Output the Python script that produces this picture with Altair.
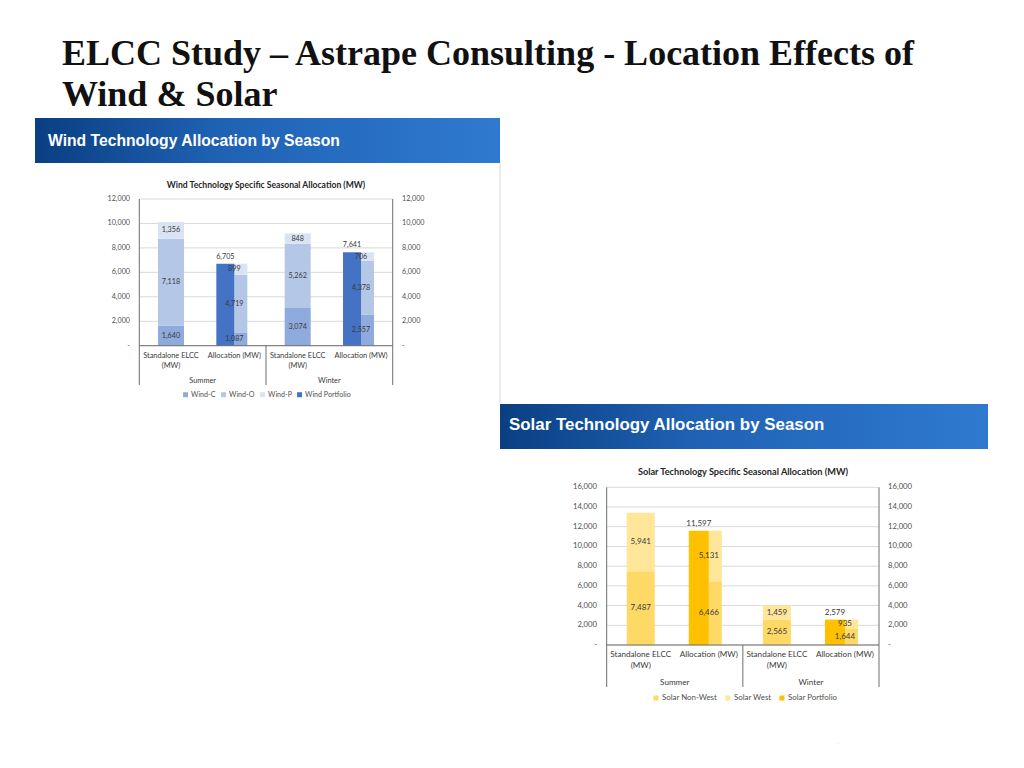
import altair as alt
import pandas as pd

M = 8  # page margin: screen coordinate = chart coordinate + 8
FONT = "Lato"
HFONT = "Liberation Sans"
TFONT = "Liberation Serif"
GRID = "#d9d9d9"
FRAME = "#6e6e6e"
LABEL = "#3a3a3a"
TICKC = "#505050"

# ---------------- text ----------------
title_line1 = "ELCC Study – Astrape Consulting - Location Effects of"
title_line2 = "Wind & Solar"
wind_header = "Wind Technology Allocation by Season"
solar_header = "Solar Technology Allocation by Season"
wind_title = "Wind Technology Specific Seasonal Allocation (MW)"
solar_title = "Solar Technology Specific Seasonal Allocation (MW)"

# ---------------- categories ----------------
categories = ["Summer|Standalone", "Summer|Allocation", "Winter|Standalone", "Winter|Allocation"]
category_labels = ["Standalone ELCC\n(MW)", "Allocation (MW)", "Standalone ELCC\n(MW)", "Allocation (MW)"]
seasons = ["Summer", "Winter"]
season_first_cat = ["Summer|Standalone", "Winter|Standalone"]
allocation_cats = ["Summer|Allocation", "Winter|Allocation"]

# ---------------- wind data ----------------
wind_series = ["Wind-C", "Wind-O", "Wind-P"]
wind_portfolio_name = "Wind Portfolio"
wind_summer_standalone = [1640, 7118, 1356]
wind_summer_allocation = [1087, 4719, 899]
wind_winter_standalone = [3074, 5262, 848]
wind_winter_allocation = [2557, 4378, 706]
wind_portfolio = [6705, 7641]
wind_colors = ["#8FAADC", "#B4C7E7", "#DAE3F3", "#4472C4"]
wind_ticks = [0, 2000, 4000, 6000, 8000, 10000, 12000]

# ---------------- solar data ----------------
solar_series = ["Solar Non-West", "Solar West"]
solar_portfolio_name = "Solar Portfolio"
solar_summer_standalone = [7487, 5941]
solar_summer_allocation = [6466, 5131]
solar_winter_standalone = [2565, 1459]
solar_winter_allocation = [1644, 935]
solar_portfolio = [11597, 2579]
solar_colors = ["#FFD966", "#FFE699", "#FFC000"]
solar_ticks = [0, 2000, 4000, 6000, 8000, 10000, 12000, 14000, 16000]


def stack_frame(series, per_cat):
    rows = []
    for cat, vals in zip(categories, per_cat):
        for i, (s, v) in enumerate(zip(series, vals)):
            rows.append(dict(cat=cat, kind=cat.split("|")[1], series=s, value=v, ord=i))
    return pd.DataFrame(rows)


def one():
    return pd.DataFrame({"k": [0]})


def build_panel(g, sdf, pdf, ticks, cdomain, crange, title):
    xs = alt.Scale(type="band", domain=categories, range=g["xr"], paddingInner=0, paddingOuter=0)
    ys = alt.Scale(type="linear", domain=[0, ticks[-1]], range=g["yr"], nice=False, zero=True)

    def X(**kw):
        return alt.X("cat:N", scale=xs, axis=None, **kw)

    legend = alt.Legend(
        orient="none", legendX=g["legx"], legendY=g["legy"], direction="horizontal",
        symbolType="square", symbolSize=g["sym"], symbolStrokeWidth=0, labelFont=FONT,
        labelFontSize=g["lfs"], labelColor=TICKC, columnPadding=g["colpad"], labelOffset=2,
        padding=0, rowPadding=0,
    )
    C = alt.Color("series:N", scale=alt.Scale(domain=cdomain, range=crange), legend=legend, title=None)

    tdf = pd.DataFrame({"t": ticks})
    tdf["lab"] = ["-" if t == 0 else f"{t:,}" for t in ticks]
    Yt = alt.Y("t:Q", scale=ys, axis=None)

    grid = alt.Chart(tdf).mark_rule(color=GRID, strokeWidth=1).encode(
        y=Yt, x=alt.value(g["xr"][0]), x2=alt.value(g["xr"][1]))
    left_lab = alt.Chart(tdf).mark_text(align="right", baseline="middle", font=FONT,
                                         fontSize=g["tfs"], color=TICKC).encode(
        y=Yt, x=alt.value(g["lx"]), text="lab:N")
    right_lab = alt.Chart(tdf).mark_text(align="left", baseline="middle", font=FONT,
                                          fontSize=g["tfs"], color=TICKC).encode(
        y=Yt, x=alt.value(g["rx"]), text="lab:N")

    Yv = alt.Y("value:Q", scale=ys, axis=None, stack="zero")
    standalone = alt.Chart(sdf).transform_filter("datum.kind == 'Standalone'").mark_bar(
        width=g["w_sa"]).encode(x=X(), y=Yv, color=C, order=alt.Order("ord:Q", sort="ascending"))
    alloc = alt.Chart(sdf).transform_filter("datum.kind == 'Allocation'").mark_bar(
        width=g["w_st"], xOffset=g["w_st"] / 2).encode(
        x=X(), y=Yv, color=C, order=alt.Order("ord:Q", sort="ascending"))
    port = alt.Chart(pdf).mark_bar(width=g["w_p"], xOffset=-g["w_p"] / 2).encode(
        x=X(), y=alt.Y("value:Q", scale=ys, axis=None), color=C)

    seg = alt.Chart(sdf).transform_stack(
        stack="value", groupby=["cat"], as_=["y0", "y1"], sort=[alt.SortField("ord", "ascending")]
    ).transform_calculate(mid="(datum.y0 + datum.y1) / 2", lab="format(datum.value, ',')").mark_text(
        font=FONT, fontSize=g["fs"], color=LABEL, baseline="middle").encode(
        x=X(), y=alt.Y("mid:Q", scale=ys, axis=None), text="lab:N")
    tot = alt.Chart(pdf).transform_calculate(lab="format(datum.value, ',')").mark_text(
        font=FONT, fontSize=g["fs"], color=LABEL, baseline="bottom", dy=-3,
        xOffset=-g["w_p"] / 2).encode(
        x=X(), y=alt.Y("value:Q", scale=ys, axis=None), text="lab:N")

    zero = alt.Chart(tdf).transform_filter("datum.t == 0").mark_rule(color=FRAME, strokeWidth=1).encode(
        y=Yt, x=alt.value(g["xr"][0]), x2=alt.value(g["xr"][1]))
    cdf = pd.DataFrame({"cat": categories})
    left_line = alt.Chart(cdf).transform_filter(f"datum.cat == '{categories[0]}'").mark_rule(
        color=FRAME, strokeWidth=1).encode(x=X(bandPosition=0), y=alt.value(g["yr"][1]),
                                           y2=alt.value(g["ybot"]))
    mid_line = alt.Chart(cdf).transform_filter(f"datum.cat == '{categories[2]}'").mark_rule(
        color=FRAME, strokeWidth=1).encode(x=X(bandPosition=0), y=alt.value(g["yr"][0]),
                                           y2=alt.value(g["ybot"]))
    right_line = alt.Chart(cdf).transform_filter(f"datum.cat == '{categories[3]}'").mark_rule(
        color=FRAME, strokeWidth=1).encode(x=X(bandPosition=1), y=alt.value(g["yr"][1]),
                                           y2=alt.value(g["ybot"]))

    cat_df = pd.DataFrame({"cat": categories, "label": category_labels})
    cat_text = alt.Chart(cat_df).mark_text(font=FONT, fontSize=g["cfs"], color=LABEL, baseline="top",
                                           lineBreak="\n", lineHeight=g["lh"]).encode(
        x=X(), y=alt.value(g["caty"]), text="label:N")
    sea_df = pd.DataFrame({"cat": season_first_cat, "season": seasons})
    sea_text = alt.Chart(sea_df).mark_text(font=FONT, fontSize=g["cfs"], color=LABEL,
                                           baseline="middle").encode(
        x=X(bandPosition=1), y=alt.value(g["seay"]), text="season:N")

    ttl = alt.Chart(one()).mark_text(font=FONT, fontWeight="bold", fontSize=g["ttfs"], color="#262626",
                                     baseline="middle").encode(
        x=alt.value(g["ttx"]), y=alt.value(g["tty"]), text=alt.value(title))

    return alt.layer(grid, standalone, alloc, port, zero, left_line, mid_line, right_line,
                     left_lab, right_lab, seg, tot, cat_text, sea_text, ttl)


wind_geom = dict(
    xr=[139.3 - M, 392.7 - M], yr=[345.7 - M, 199.0 - M], ybot=385 - M,
    lx=130 - M, rx=402 - M, w_sa=26, w_st=13, w_p=18, fs=7.2, tfs=7.2, cfs=7.4, lh=10,
    caty=352 - M, seay=381 - M, ttx=266 - M, tty=185 - M, ttfs=8.6,
    legx=182 - M, legy=391 - M, sym=25, lfs=7.1, colpad=4,
)
solar_geom = dict(
    xr=[606.7 - M, 879.0 - M], yr=[645.0 - M, 487.3 - M], ybot=687 - M,
    lx=597 - M, rx=888 - M, w_sa=28, w_st=13, w_p=20, fs=8, tfs=7.7, cfs=8.1, lh=10.5,
    caty=651 - M, seay=683 - M, ttx=743 - M, tty=472 - M, ttfs=9.2,
    legx=652 - M, legy=694 - M, sym=25, lfs=7.9, colpad=6,
)

wind_stack = stack_frame(wind_series, [wind_summer_standalone, wind_summer_allocation,
                                       wind_winter_standalone, wind_winter_allocation])
wind_port = pd.DataFrame({"cat": allocation_cats, "series": wind_portfolio_name, "value": wind_portfolio})
solar_stack = stack_frame(solar_series, [solar_summer_standalone, solar_summer_allocation,
                                         solar_winter_standalone, solar_winter_allocation])
solar_port = pd.DataFrame({"cat": allocation_cats, "series": solar_portfolio_name, "value": solar_portfolio})

wind_panel = build_panel(wind_geom, wind_stack, wind_port, wind_ticks,
                         wind_series + [wind_portfolio_name], wind_colors, wind_title)
solar_panel = build_panel(solar_geom, solar_stack, solar_port, solar_ticks,
                          solar_series + [solar_portfolio_name], solar_colors, solar_title)

grad = alt.LinearGradient(
    gradient="linear", x1=0, x2=1, y1=0, y2=0,
    stops=[alt.GradientStop(color="#0a3f82", offset=0),
           alt.GradientStop(color="#1f62b4", offset=0.4),
           alt.GradientStop(color="#2f7ad0", offset=1)],
)


def header(x0, x1, y0, y1, tx, ty, text, fs):
    band = alt.Chart(one()).mark_rect(fill=grad).encode(
        x=alt.value(x0 - M), x2=alt.value(x1 - M), y=alt.value(y0 - M), y2=alt.value(y1 - M))
    txt = alt.Chart(one()).mark_text(font=HFONT, fontWeight="bold", fontSize=fs, color="white",
                                     align="left", baseline="middle").encode(
        x=alt.value(tx - M), y=alt.value(ty - M), text=alt.value(text))
    return band, txt


wh_band, wh_text = header(35, 500, 118, 163, 48, 141, wind_header, 15.7)
sh_band, sh_text = header(500, 988, 404, 449, 509, 425, solar_header, 16.9)

wind_border = alt.Chart(one()).mark_rule(color="#d6d6d6", strokeWidth=1).encode(
    x=alt.value(500 - M), y=alt.value(163 - M), y2=alt.value(403 - M))

speck = alt.Chart(one()).mark_text(font=FONT, fontSize=6, color="#c8c8c8").encode(
    x=alt.value(838 - M), y=alt.value(742 - M), text=alt.value("."))

t1 = alt.Chart(one()).mark_text(font=TFONT, fontWeight="bold", fontSize=36, color="#111111",
                                align="left", baseline="alphabetic").encode(
    x=alt.value(62 - M), y=alt.value(65 - M), text=alt.value(title_line1))
t2 = alt.Chart(one()).mark_text(font=TFONT, fontWeight="bold", fontSize=36, color="#111111",
                                align="left", baseline="alphabetic").encode(
    x=alt.value(62 - M), y=alt.value(106 - M), text=alt.value(title_line2))

chart = alt.layer(
    wh_band, wh_text, wind_border, sh_band, sh_text, speck, t1, t2, wind_panel, solar_panel
).resolve_scale(
    x="independent", y="independent", color="independent"
).properties(
    width=1008, height=752, autosize=alt.AutoSizeParams(type="none"), padding=0,
).configure_view(strokeWidth=0)

chart.save("out.html", embed_options={"renderer": "svg", "actions": False})
